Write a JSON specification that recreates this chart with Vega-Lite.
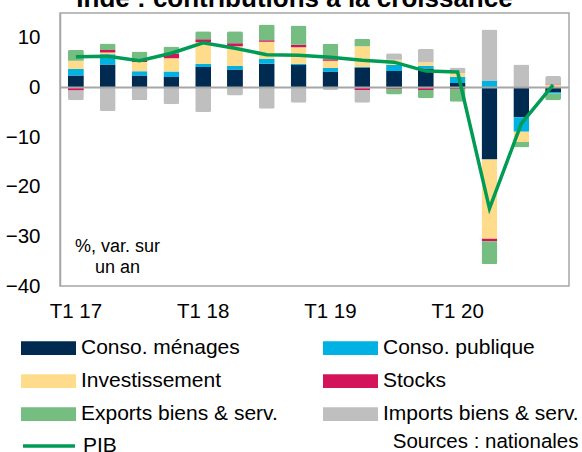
{
  "$schema": "https://vega.github.io/schema/vega-lite/v6.json",
  "width": 509,
  "height": 273,
  "autosize": {"type": "none"},
  "padding": {"left": 60, "top": 13, "right": 13, "bottom": 166},
  "title": {"text": "Inde : contributions à la croissance", "fontSize": 26, "font": "Liberation Sans", "fontWeight": "bold", "anchor": "middle", "frame": "group", "orient": "top", "offset": 1, "dx": -20, "color": "#000000"},
  "config": {
    "font": "Liberation Sans",
    "view": {"stroke": "#A6A6A6", "strokeWidth": 1.5},
    "legend": {"labelFont": "Liberation Sans", "labelColor": "#000000"}
  },
  "datasets": {
    "bars": [
      {"q": "T1 17", "c": "Conso. ménages", "v": 2.4}, {"q": "T1 17", "c": "Conso. publique", "v": 1.3}, {"q": "T1 17", "c": "Investissement", "v": 1.7}, {"q": "T1 17", "c": "Stocks", "v": -0.6}, {"q": "T1 17", "c": "Exports biens & serv.", "v": 2.2}, {"q": "T1 17", "c": "Imports biens & serv.", "v": -2.0},
      {"q": "T2 17", "c": "Conso. ménages", "v": 4.6}, {"q": "T2 17", "c": "Conso. publique", "v": 2.1}, {"q": "T2 17", "c": "Investissement", "v": 0.35}, {"q": "T2 17", "c": "Stocks", "v": 0.5}, {"q": "T2 17", "c": "Exports biens & serv.", "v": 1.3}, {"q": "T2 17", "c": "Imports biens & serv.", "v": -4.8},
      {"q": "T3 17", "c": "Conso. ménages", "v": 2.4}, {"q": "T3 17", "c": "Conso. publique", "v": 0.85}, {"q": "T3 17", "c": "Investissement", "v": 1.9}, {"q": "T3 17", "c": "Stocks", "v": 0.2}, {"q": "T3 17", "c": "Exports biens & serv.", "v": 1.9}, {"q": "T3 17", "c": "Imports biens & serv.", "v": -2.6},
      {"q": "T4 17", "c": "Conso. ménages", "v": 2.1}, {"q": "T4 17", "c": "Conso. publique", "v": 1.1}, {"q": "T4 17", "c": "Investissement", "v": 2.7}, {"q": "T4 17", "c": "Stocks", "v": 0.85}, {"q": "T4 17", "c": "Exports biens & serv.", "v": 1.5}, {"q": "T4 17", "c": "Imports biens & serv.", "v": -3.4},
      {"q": "T1 18", "c": "Conso. ménages", "v": 4.1}, {"q": "T1 18", "c": "Conso. publique", "v": 0.7}, {"q": "T1 18", "c": "Investissement", "v": 4.3}, {"q": "T1 18", "c": "Stocks", "v": 0.6}, {"q": "T1 18", "c": "Exports biens & serv.", "v": 1.6}, {"q": "T1 18", "c": "Imports biens & serv.", "v": -5.0},
      {"q": "T2 18", "c": "Conso. ménages", "v": 3.6}, {"q": "T2 18", "c": "Conso. publique", "v": 0.7}, {"q": "T2 18", "c": "Investissement", "v": 4.0}, {"q": "T2 18", "c": "Stocks", "v": 0.6}, {"q": "T2 18", "c": "Exports biens & serv.", "v": 2.4}, {"q": "T2 18", "c": "Imports biens & serv.", "v": -1.6},
      {"q": "T3 18", "c": "Conso. ménages", "v": 4.8}, {"q": "T3 18", "c": "Conso. publique", "v": 1.0}, {"q": "T3 18", "c": "Investissement", "v": 3.4}, {"q": "T3 18", "c": "Stocks", "v": 0.3}, {"q": "T3 18", "c": "Exports biens & serv.", "v": 3.2}, {"q": "T3 18", "c": "Imports biens & serv.", "v": -4.3},
      {"q": "T4 18", "c": "Conso. ménages", "v": 4.5}, {"q": "T4 18", "c": "Conso. publique", "v": 0.3}, {"q": "T4 18", "c": "Investissement", "v": 3.3}, {"q": "T4 18", "c": "Stocks", "v": 0.5}, {"q": "T4 18", "c": "Exports biens & serv.", "v": 3.9}, {"q": "T4 18", "c": "Imports biens & serv.", "v": -3.1},
      {"q": "T1 19", "c": "Conso. ménages", "v": 3.2}, {"q": "T1 19", "c": "Conso. publique", "v": 0.7}, {"q": "T1 19", "c": "Investissement", "v": 1.5}, {"q": "T1 19", "c": "Stocks", "v": 0.3}, {"q": "T1 19", "c": "Exports biens & serv.", "v": 3.1}, {"q": "T1 19", "c": "Imports biens & serv.", "v": -0.5},
      {"q": "T2 19", "c": "Conso. ménages", "v": 4.0}, {"q": "T2 19", "c": "Conso. publique", "v": 0.1}, {"q": "T2 19", "c": "Investissement", "v": 4.2}, {"q": "T2 19", "c": "Stocks", "v": -0.5}, {"q": "T2 19", "c": "Exports biens & serv.", "v": 1.5}, {"q": "T2 19", "c": "Imports biens & serv.", "v": -2.6},
      {"q": "T3 19", "c": "Conso. ménages", "v": 3.3}, {"q": "T3 19", "c": "Conso. publique", "v": 1.2}, {"q": "T3 19", "c": "Investissement", "v": 1.1}, {"q": "T3 19", "c": "Stocks", "v": -0.3}, {"q": "T3 19", "c": "Exports biens & serv.", "v": -1.1}, {"q": "T3 19", "c": "Imports biens & serv.", "v": 1.3},
      {"q": "T4 19", "c": "Conso. ménages", "v": 3.8}, {"q": "T4 19", "c": "Conso. publique", "v": 0.5}, {"q": "T4 19", "c": "Investissement", "v": 0.8}, {"q": "T4 19", "c": "Stocks", "v": -0.5}, {"q": "T4 19", "c": "Exports biens & serv.", "v": -1.7}, {"q": "T4 19", "c": "Imports biens & serv.", "v": 2.7},
      {"q": "T1 20", "c": "Conso. ménages", "v": 0.9}, {"q": "T1 20", "c": "Conso. publique", "v": 1.2}, {"q": "T1 20", "c": "Investissement", "v": 0.8}, {"q": "T1 20", "c": "Stocks", "v": -0.3}, {"q": "T1 20", "c": "Exports biens & serv.", "v": -2.6}, {"q": "T1 20", "c": "Imports biens & serv.", "v": 1.1},
      {"q": "T2 20", "c": "Conso. ménages", "v": -14.5}, {"q": "T2 20", "c": "Conso. publique", "v": 1.3}, {"q": "T2 20", "c": "Investissement", "v": -16.0}, {"q": "T2 20", "c": "Stocks", "v": -0.5}, {"q": "T2 20", "c": "Exports biens & serv.", "v": -4.6}, {"q": "T2 20", "c": "Imports biens & serv.", "v": 10.4},
      {"q": "T3 20", "c": "Conso. ménages", "v": -6.0}, {"q": "T3 20", "c": "Conso. publique", "v": -2.9}, {"q": "T3 20", "c": "Investissement", "v": -2.1}, {"q": "T3 20", "c": "Stocks", "v": 0.0}, {"q": "T3 20", "c": "Exports biens & serv.", "v": -1.1}, {"q": "T3 20", "c": "Imports biens & serv.", "v": 4.6},
      {"q": "T4 20", "c": "Conso. ménages", "v": -0.9}, {"q": "T4 20", "c": "Conso. publique", "v": -0.3}, {"q": "T4 20", "c": "Investissement", "v": 0.5}, {"q": "T4 20", "c": "Stocks", "v": 0.1}, {"q": "T4 20", "c": "Exports biens & serv.", "v": -1.4}, {"q": "T4 20", "c": "Imports biens & serv.", "v": 1.7}
    ],
    "pib": [
      {"q": "T1 17", "s": "PIB", "v": 6.2}, {"q": "T2 17", "s": "PIB", "v": 6.3}, {"q": "T3 17", "s": "PIB", "v": 5.4}, {"q": "T4 17", "s": "PIB", "v": 6.9},
      {"q": "T1 18", "s": "PIB", "v": 9.0}, {"q": "T2 18", "s": "PIB", "v": 7.9}, {"q": "T3 18", "s": "PIB", "v": 6.6}, {"q": "T4 18", "s": "PIB", "v": 6.5},
      {"q": "T1 19", "s": "PIB", "v": 6.1}, {"q": "T2 19", "s": "PIB", "v": 5.5}, {"q": "T3 19", "s": "PIB", "v": 5.1}, {"q": "T4 19", "s": "PIB", "v": 3.3},
      {"q": "T1 20", "s": "PIB", "v": 3.1}, {"q": "T2 20", "s": "PIB", "v": -24.4}, {"q": "T3 20", "s": "PIB", "v": -7.3}, {"q": "T4 20", "s": "PIB", "v": 0.5}
    ]
  },
  "layer": [
    {
      "data": {"name": "bars"},
      "transform": [{"calculate": "indexof(['Conso. ménages','Conso. publique','Investissement','Stocks','Exports biens & serv.','Imports biens & serv.'], datum.c)", "as": "o"}],
      "mark": {"type": "bar", "cornerRadius": 2},
      "encoding": {
        "x": {
          "field": "q", "type": "nominal",
          "scale": {"domain": ["T1 17","T2 17","T3 17","T4 17","T1 18","T2 18","T3 18","T4 18","T1 19","T2 19","T3 19","T4 19","T1 20","T2 20","T3 20","T4 20"], "paddingInner": 0.5, "paddingOuter": 0.25},
          "axis": {
            "title": "Sources : nationales",
            "labelExpr": "indexof(datum.label, 'T1') == 0 ? datum.label : ''",
            "labelAngle": 0, "labelOverlap": false, "domain": false, "ticks": false, "tickSize": 0,
            "labelPadding": 15, "labelFontSize": 20.5, "labelColor": "#000000", "labelFont": "Liberation Sans",
            "titleX": 518, "titleY": 161, "titleAlign": "right", "titleBaseline": "alphabetic", "titleAnchor": null,
            "titleFontWeight": "normal", "titleFontSize": 20.5, "titleColor": "#000000", "titleFont": "Liberation Sans"
          }
        },
        "y": {
          "field": "v", "type": "quantitative", "stack": "zero",
          "scale": {"domain": [-40, 15], "nice": false},
          "axis": {
            "title": ["%, var. sur", "un an"],
            "values": [-40, -30, -20, -10, 0, 10],
            "grid": false, "ticks": false, "tickSize": 0, "labelFlush": false,
            "domainColor": "#A6A6A6", "domainWidth": 1.5,
            "labelPadding": 20, "labelFontSize": 20.5, "labelColor": "#000000", "labelFont": "Liberation Sans",
            "titleAngle": 0, "titleX": 57, "titleY": 238, "titleAlign": "center", "titleBaseline": "alphabetic",
            "titleFontWeight": "normal", "titleFontSize": 18, "titleLineHeight": 21, "titleColor": "#000000", "titleFont": "Liberation Sans"
          }
        },
        "color": {
          "field": "c", "type": "nominal",
          "scale": {"domain": ["Conso. ménages","Investissement","Exports biens & serv.","Conso. publique","Stocks","Imports biens & serv."], "range": ["#002A4F","#FFDC8C","#75BD80","#00B2E3","#D4145A","#BFBFBF"]},
          "legend": {
            "title": null, "orient": "none", "legendX": -39, "legendY": 325, "columns": 2, "columnPadding": 45, "rowPadding": 12,
            "symbolType": "M-1,-0.25H1V0.25H-1Z", "symbolSize": 3025, "symbolStrokeWidth": 0, "clipHeight": 20,
            "labelFontSize": 21, "labelOffset": 5, "labelLimit": 300
          }
        },
        "order": {"field": "o", "type": "quantitative"}
      }
    },
    {
      "data": {"values": [{"z": 0}]},
      "mark": {"type": "rule", "color": "#A6A6A6", "strokeWidth": 2},
      "encoding": {"y": {"field": "z", "type": "quantitative"}}
    },
    {
      "data": {"name": "pib"},
      "mark": {"type": "line", "strokeWidth": 3.5},
      "encoding": {
        "x": {"field": "q", "type": "nominal"},
        "y": {"field": "v", "type": "quantitative"},
        "stroke": {
          "field": "s", "type": "nominal",
          "scale": {"range": ["#009B55"]},
          "legend": {
            "title": null, "orient": "none", "legendX": -39, "legendY": 423,
            "symbolType": "stroke", "symbolSize": 2700, "symbolStrokeWidth": 3.5, "clipHeight": 20,
            "labelFontSize": 21, "labelOffset": 6
          }
        }
      }
    }
  ]
}
